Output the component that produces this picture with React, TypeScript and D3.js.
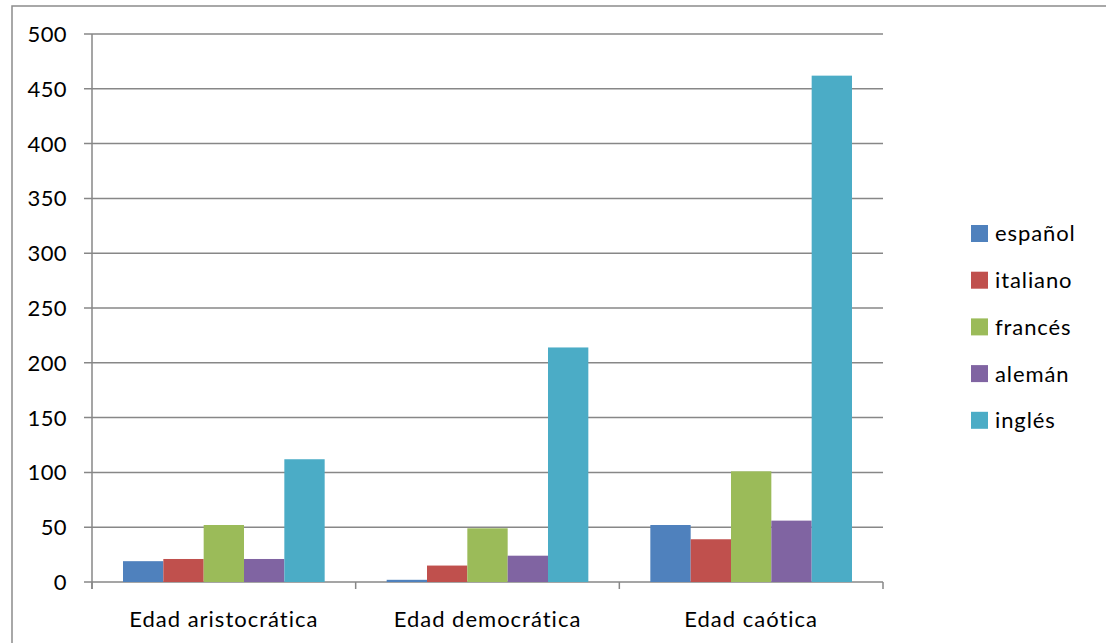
import React from "react";
import * as d3 from "d3";

const categories = ["Edad aristocrática", "Edad democrática", "Edad caótica"];
const seriesNames = ["español", "italiano", "francés", "alemán", "inglés"];
const espanol = [19, 2, 52];
const italiano = [21, 15, 39];
const frances = [52, 49, 101];
const aleman = [21, 24, 56];
const ingles = [112, 214, 462];
const seriesValues = [espanol, italiano, frances, aleman, ingles];
const yTicks = [0, 50, 100, 150, 200, 250, 300, 350, 400, 450, 500];
const colors = ["#4F81BD", "#C0504D", "#9BBB59", "#8064A2", "#4BACC6"];

const W = 1106;
const H = 643;
const plot = { left: 92, right: 883, top: 34, bottom: 582 };
const FONT = "Lato, 'Open Sans', sans-serif";
const GRID = "#878787";

export default function App() {
  const x0 = d3
    .scaleBand<string>()
    .domain(categories)
    .range([plot.left, plot.right])
    .paddingInner(0)
    .paddingOuter(0);
  const groupPad = 31;
  const x1 = d3
    .scaleBand<string>()
    .domain(seriesNames)
    .range([groupPad, x0.bandwidth() - groupPad])
    .padding(0);
  const y = d3.scaleLinear().domain([0, 500]).range([plot.bottom, plot.top]);

  const catTicks = [...categories.map((c) => x0(c)!), plot.right];

  return (
    <svg
      width={W}
      height={H}
      style={{ position: "absolute", left: 0, top: 0, background: "#fff" }}
      fontFamily={FONT}
    >
      <rect x={12} y={6} width={W + 20} height={H + 20} fill="#fff" stroke="#8c8c8c" strokeWidth={1.5} />
      {yTicks.map((t) => (
        <g key={t}>
          <line x1={plot.left - 8} x2={plot.right} y1={y(t)} y2={y(t)} stroke={GRID} strokeWidth={1.5} />
          <text x={67} y={y(t)} dy="0.36em" textAnchor="end" fontSize={22} letterSpacing={0.4} fill="#000">
            {t}
          </text>
        </g>
      ))}
      <line x1={plot.left} x2={plot.left} y1={plot.top} y2={plot.bottom + 7} stroke={GRID} strokeWidth={1.5} />
      {catTicks.map((cx, i) => (
        <line key={i} x1={cx} x2={cx} y1={plot.bottom} y2={plot.bottom + 7} stroke={GRID} strokeWidth={1.5} />
      ))}
      {categories.map((c, ci) => (
        <g key={c} transform={`translate(${x0(c)},0)`}>
          {seriesNames.map((s, si) => {
            const v = seriesValues[si][ci];
            return (
              <rect
                key={s}
                x={x1(s)}
                y={y(v)}
                width={x1.bandwidth()}
                height={y(0) - y(v)}
                fill={colors[si]}
              />
            );
          })}
          <text x={x0.bandwidth() / 2} y={627} textAnchor="middle" fontSize={22} letterSpacing={1} fill="#000">
            {c}
          </text>
        </g>
      ))}
      {seriesNames.map((s, i) => (
        <g key={s} transform={`translate(971,${225 + i * 46.7})`}>
          <rect x={0} y={0} width={17} height={17} fill={colors[i]} />
          <text x={24} y={8.5} dy="0.36em" fontSize={22} letterSpacing={0.9} fill="#000">
            {s}
          </text>
        </g>
      ))}
    </svg>
  );
}
